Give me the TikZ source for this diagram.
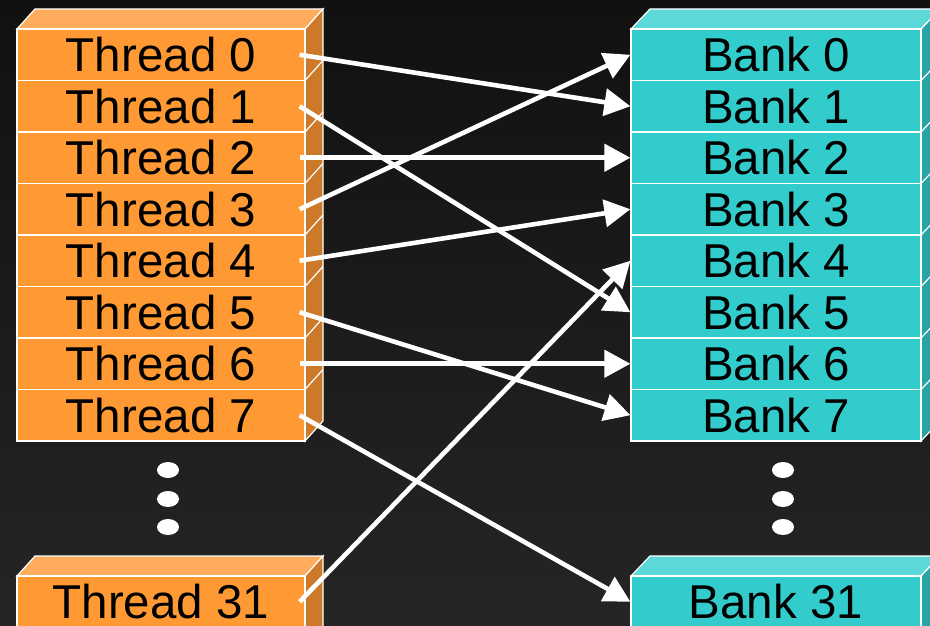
\documentclass[tikz,border=0pt]{standalone}
\usepackage{fontspec}
\setmainfont{Liberation Sans}
\usetikzlibrary{arrows.meta}
\definecolor{orfront}{HTML}{FF9933}
\definecolor{ortop}{HTML}{FFAD5C}
\definecolor{orside}{HTML}{CC7A29}
\definecolor{tefront}{HTML}{33CCCC}
\definecolor{tetop}{HTML}{5CD8D8}
\definecolor{teside}{HTML}{29A3A3}
\definecolor{bgtop}{HTML}{111111}
\definecolor{bgbot}{HTML}{252525}
\tikzset{
  edge/.style={draw=white, line width=1.2pt, line join=miter},
  rowbox/.style={rectangle, edge, minimum width=288pt, minimum height=51.5pt, inner sep=0pt,
    font=\fontsize{47.5pt}{50pt}\selectfont, text=black},
  tbox/.style={rowbox, fill=orfront},
  bbox/.style={rowbox, minimum width=290pt, fill=tefront},
  arr/.style={draw=white, line width=4.6pt, -{Triangle[length=26pt,width=27pt]}},
  dot/.style={fill=white}
}
\begin{document}
\begin{tikzpicture}[x=1pt,y=-1pt]
\clip (0,0) rectangle (930,626);
\shade[top color=bgtop, bottom color=bgbot] (0,0) rectangle (930,626);
% left block 3D faces
\filldraw[edge, fill=ortop] (17,29) -- (35,9) -- (323,9) -- (305,29) -- cycle;
\filldraw[edge, fill=orside] (305,29) -- (323,9) -- (323,421) -- (305,441) -- cycle;
\foreach \k in {1,...,7} \draw[edge] (305,29+51.5*\k) -- (323,9+51.5*\k);
% right block 3D faces
\filldraw[edge, fill=tetop] (631,29) -- (650,9) -- (940,9) -- (921,29) -- cycle;
\filldraw[edge, fill=teside] (921,29) -- (940,9) -- (940,421) -- (921,441) -- cycle;
\foreach \k in {1,...,7} \draw[edge] (921,29+51.5*\k) -- (940,9+51.5*\k);
% rows
\foreach \i in {0,...,7} {
  \node[tbox] (t\i) at (161,54.75+51.5*\i) {Thread \i};
  \node[bbox] (b\i) at (776,54.75+51.5*\i) {Bank \i};
}
% bottom boxes
\filldraw[edge, fill=ortop] (17,576) -- (35,556) -- (323,556) -- (305,576) -- cycle;
\filldraw[edge, fill=orside] (305,576) -- (323,556) -- (323,640) -- (305,640) -- cycle;
\node[tbox] (t31) at (161,601.75) {Thread 31};
\filldraw[edge, fill=tetop] (631,576) -- (650,556) -- (940,556) -- (921,576) -- cycle;
\filldraw[edge, fill=teside] (921,576) -- (940,556) -- (940,640) -- (921,640) -- cycle;
\node[bbox] (b31) at (776,601.75) {Bank 31};
% dots
\foreach \yy in {470,499,527} {
  \fill[dot] (168,\yy) ellipse [x radius=11pt, y radius=8pt];
  \fill[dot] (783,\yy) ellipse [x radius=11pt, y radius=8pt];
}
% arrows
\draw[arr] ([xshift=-6pt]t0.east) -- (b1.west);
\draw[arr] ([xshift=-6pt]t1.east) -- (b5.west);
\draw[arr] ([xshift=-6pt]t2.east) -- (b2.west);
\draw[arr] ([xshift=-6pt]t3.east) -- (b0.west);
\draw[arr] ([xshift=-6pt]t4.east) -- (b3.west);
\draw[arr] ([xshift=-6pt]t5.east) -- (b7.west);
\draw[arr] ([xshift=-6pt]t6.east) -- (b6.west);
\draw[arr] ([xshift=-6pt]t7.east) -- (b31.west);
\draw[arr] ([xshift=-6pt]t31.east) -- (b4.west);
\end{tikzpicture}
\end{document}
